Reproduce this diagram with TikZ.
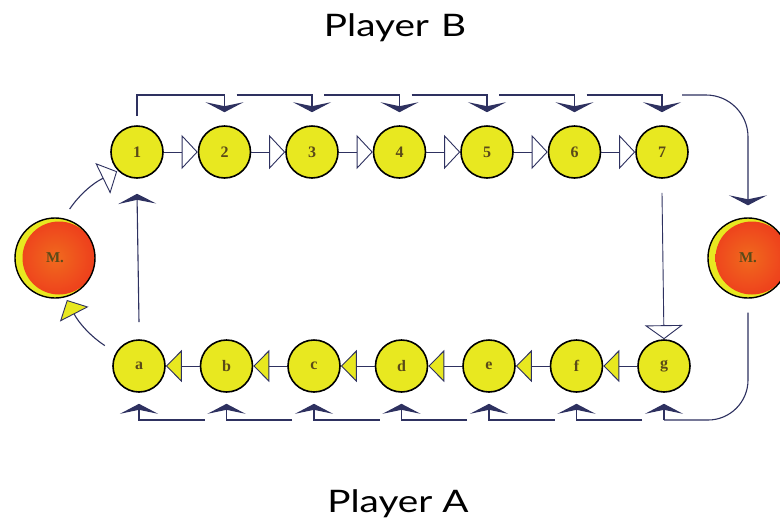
\documentclass[tikz,border=0pt]{standalone}
\usepackage{fontspec}
\setmainfont{Liberation Serif}
\newfontfamily\titlefont[FakeStretch=1.25]{Lato}
\usetikzlibrary{arrows.meta,calc}
\definecolor{navy}{HTML}{2E3160}
\definecolor{dotyellow}{HTML}{E8E820}
\definecolor{mred}{HTML}{EE3E1C}
\definecolor{morange}{HTML}{F06A1E}
\definecolor{numcol}{HTML}{5A4A18}
\tikzset{
  bartip/.tip={Stealth[width=38pt,length=10pt,inset=4pt]},
  opentri/.tip={Triangle[width=34pt,length=16pt,fill=white,line width=0.9pt]},
  opentriv/.tip={Triangle[width=38pt,length=14pt,fill=white,line width=0.9pt]},
  yeltri/.tip={Triangle[width=32pt,length=16pt,fill=dotyellow,line width=0.9pt]},
  conn/.style={draw=navy,line width=1.1pt},
  dot/.style={circle,draw=black,line width=1.6pt,fill=dotyellow,minimum size=52pt,
    inner sep=0pt,font=\fontsize{16}{16}\selectfont\bfseries,text=numcol},
  mball/.style={circle,draw=black,line width=1.4pt,fill=dotyellow,minimum size=80pt,
    inner sep=0pt,font=\fontsize{15}{15}\selectfont\bfseries,text=numcol,
    path picture={\shade[inner color=morange,outer color=mred] ([xshift=4pt]path picture bounding box.center) circle (36.5pt);}},
  title/.style={font=\titlefont\fontsize{31}{31}\selectfont,anchor=base,inner sep=0pt}
}
\begin{document}
\begin{tikzpicture}[x=1pt,y=-1pt]
\fill[white] (0,0) rectangle (780,523);
\useasboundingbox (0,0) rectangle (780,523);

% titles
\node[title] (pb) at (395,36) {Player\hspace{12pt}B};
\node[title] (pa) at (398,512) {Player A};

% nodes
\foreach \i in {1,...,7}
  \node[dot] (t\i) at ({137+87.5*(\i-1)},152) {\i};
\foreach \i/\l in {1/a,2/b,3/c,4/d,5/e,6/f,7/g}
  \node[dot] (b\i) at ({139+87.5*(\i-1)},366) {\l};
\node[mball] (ML) at (55,258) {M.};
\node[mball] (MR) at (748,258) {M.};

\coordinate (busT) at (0,95);
\coordinate (busB) at (0,420);

% top row arrows
\foreach \i [count=\j from 2] in {1,...,6}
  \draw[conn,line width=0.9pt,-{opentri}] (t\i) -- (t\j);
% bottom row arrows
\foreach \i [count=\j from 2] in {1,...,6}
  \draw[conn,line width=0.9pt,-{yeltri}] (b\j) -- (b\i);

% top bus
\draw[conn,-{bartip}] ([shift={(0,-9)}]t1.north) -- (t1.north |- busT) -- (t2.north |- busT) -- ([shift={(0,-13)}]t2.north);
\foreach \i [count=\j from 3] in {2,...,6}
  \draw[conn,-{bartip}] ($(t\i.north |- busT)+(12,0)$) -- (t\j.north |- busT) -- ([shift={(0,-13)}]t\j.north);
\draw[conn,rounded corners=42pt,-{bartip}] ($(t7.north |- busT)+(20,0)$) -| ([shift={(0,-12)}]MR.north);

% bottom bus
\foreach \i [count=\j from 2] in {1,...,6}
  \draw[conn,-{bartip}] ($(b\j.south |- busB)+(-22,0)$) -- (b\i.south |- busB) -- ([shift={(0,11)}]b\i.south);
\draw[conn,rounded corners=40pt] ([shift={(0,14)}]MR.south) |- (b7.south |- busB);
\draw[conn,-{bartip}] (b7.south |- busB) -- ([shift={(0,11)}]b7.south);

% verticals
\draw[conn,-{bartip}] ([shift={(0,-17)}]b1.north) -- ([shift={(0,15)}]t1.south);
\draw[conn,line width=0.9pt,-{opentriv}] ([shift={(0,14)}]t7.south) -- (b7.north);

% curves at left M
\draw[conn,-{opentri},shorten <=11pt,shorten >=1pt] (ML.78) to[bend left=15] (t1.225);
\draw[conn,-{yeltri},shorten <=13pt,shorten >=3pt] (b1.150) to[bend left=15] (ML.285);
\end{tikzpicture}
\end{document}
